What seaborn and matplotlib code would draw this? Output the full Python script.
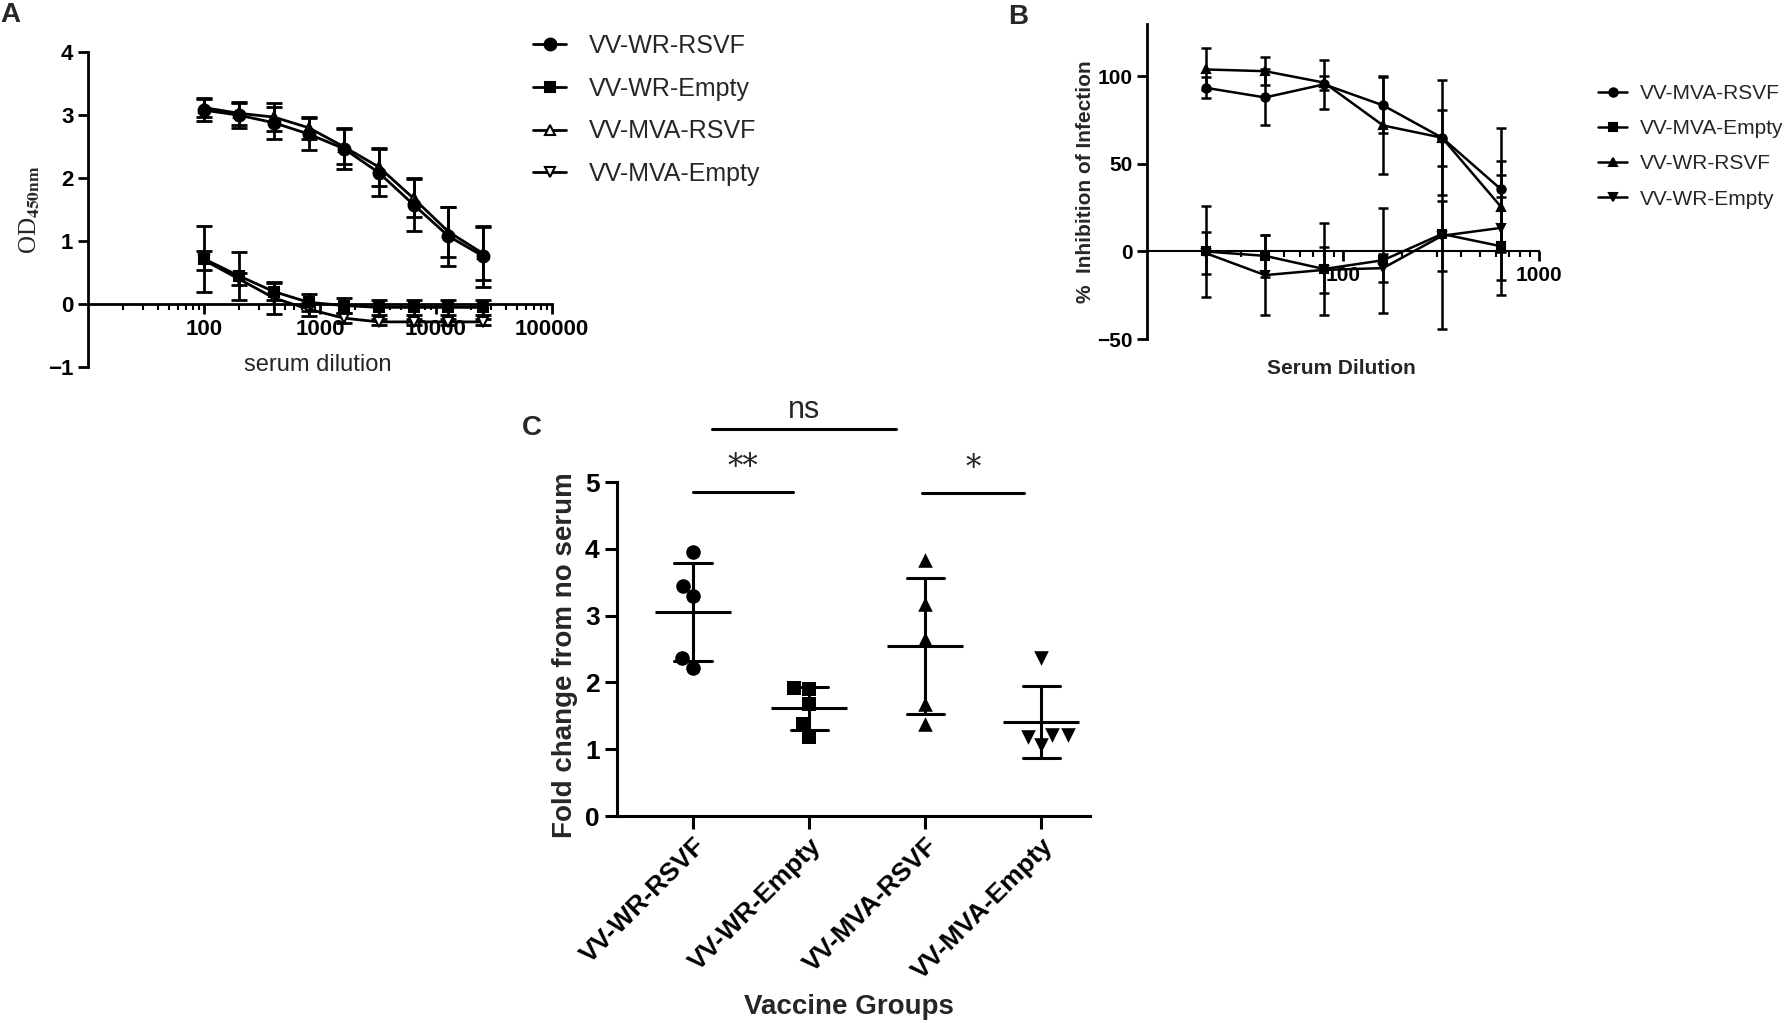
import numpy as np
import pandas as pd
import matplotlib
matplotlib.use('Agg')
import matplotlib.pyplot as plt
import seaborn as sns
from matplotlib.ticker import FixedLocator, FixedFormatter, LogLocator, NullFormatter

# ---- Panel A: ELISA OD450 vs serum dilution ----
dil_a = [100, 200, 400, 800, 1600, 3200, 6400, 12800, 25600]
wr_rsvf_a = [3.08, 3.00, 2.88, 2.70, 2.47, 2.09, 1.58, 1.08, 0.76]
wr_rsvf_a_sd = [0.18, 0.20, 0.25, 0.25, 0.32, 0.38, 0.42, 0.47, 0.48]
wr_empty_a = [0.72, 0.45, 0.20, 0.03, -0.02, -0.05, -0.05, -0.05, -0.05]
wr_empty_a_sd = [0.52, 0.38, 0.14, 0.14, 0.12, 0.12, 0.12, 0.12, 0.12]
mva_rsvf_a = [3.12, 3.03, 2.97, 2.80, 2.50, 2.18, 1.68, 1.15, 0.80]
mva_rsvf_a_sd = [0.15, 0.18, 0.22, 0.17, 0.28, 0.30, 0.30, 0.40, 0.42]
mva_empty_a = [0.70, 0.40, 0.10, -0.08, -0.22, -0.28, -0.28, -0.28, -0.28]
mva_empty_a_sd = [0.15, 0.10, 0.25, 0.10, 0.08, 0.05, 0.05, 0.05, 0.05]

# ---- Panel B: % inhibition vs serum dilution ----
dil_b = [20, 40, 80, 160, 320, 640]
mva_rsvf_b = [93.5, 88, 95.5, 83.5, 65, 35.5]
mva_rsvf_b_sd = [6, 16, 14, 16, 33, 35]
mva_empty_b = [0, -2.5, -10, -5, 10, 3]
mva_empty_b_sd = [26, 12, 26, 30, 54, 28]
wr_rsvf_b = [104, 103, 96.5, 72, 65, 25.5]
wr_rsvf_b_sd = [12, 8, 4, 28, 16, 26]
wr_empty_b = [-1, -13.5, -10.5, -9.5, 9, 13.5]
wr_empty_b_sd = [12, 23, 13, 8, 20, 30]

# ---- Panel C: fold change per vaccine group ----
groups = ['VV-WR-RSVF', 'VV-WR-Empty', 'VV-MVA-RSVF', 'VV-MVA-Empty']
wr_rsvf_c = [3.95, 3.45, 3.29, 2.37, 2.22]
wr_empty_c = [1.90, 1.92, 1.68, 1.38, 1.18]
mva_rsvf_c = [3.83, 3.17, 2.65, 1.68, 1.38]
mva_empty_c = [2.37, 1.21, 1.06, 1.18, 1.21]
c_markers = ['o', 's', '^', 'v']

sns.set_theme(style='ticks')
plt.rcParams['font.family'] = ['Liberation Sans', 'DejaVu Sans']
plt.rcParams['mathtext.fontset'] = 'stix'

fig = plt.figure(figsize=(17.9, 10.23), dpi=100)


def style_log_axis(ax, xlim, ylim, xticks, yticks, tick_size, bold):
    ax.set_xscale('log')
    ax.set_xlim(*xlim)
    ax.set_ylim(*ylim)
    for s in ['top', 'right']:
        ax.spines[s].set_visible(False)
    ax.spines['bottom'].set_position(('data', 0))
    for s in ['left', 'bottom']:
        ax.spines[s].set_linewidth(2)
        ax.spines[s].set_color('black')
    ax.xaxis.set_major_locator(FixedLocator(xticks))
    ax.xaxis.set_major_formatter(FixedFormatter([str(t) for t in xticks]))
    ax.xaxis.set_minor_locator(LogLocator(base=10, subs=np.arange(2, 10)))
    ax.xaxis.set_minor_formatter(NullFormatter())
    ax.set_yticks(yticks)
    w = 'bold' if bold else 'normal'
    ax.tick_params(axis='both', which='major', length=7, width=2, direction='out',
                   labelsize=tick_size, colors='black')
    ax.tick_params(axis='x', which='minor', length=4, width=1.5, direction='out', colors='black')
    for lab in ax.get_xticklabels() + ax.get_yticklabels():
        lab.set_fontweight(w)


def draw_series(ax, x, y, sd, label, marker, ms, filled, lw, cap, z):
    fc = 'black' if filled else 'white'
    ax.errorbar(x, y, yerr=sd, fmt='none', ecolor='black', elinewidth=lw,
                capsize=cap, capthick=lw, zorder=z)
    sns.lineplot(x=x, y=y, ax=ax, color='black', linewidth=lw, marker=marker,
                 markersize=ms, markerfacecolor=fc, markeredgecolor='black',
                 markeredgewidth=1.5, label=label, zorder=z + 0.5)


# ---------------- Panel A ----------------
axA = fig.add_axes([0.0492, 0.641, 0.2592, 0.308])
# MVA drawn underneath, WR on top (as in the original overlay)
draw_series(axA, dil_a, mva_rsvf_a, mva_rsvf_a_sd, 'VV-MVA-RSVF', '^', 7, False, 2, 6, 2)
draw_series(axA, dil_a, mva_empty_a, mva_empty_a_sd, 'VV-MVA-Empty', 'v', 7, False, 2, 6, 2)
draw_series(axA, dil_a, wr_rsvf_a, wr_rsvf_a_sd, 'VV-WR-RSVF', 'o', 8.5, True, 2, 6, 4)
draw_series(axA, dil_a, wr_empty_a, wr_empty_a_sd, 'VV-WR-Empty', 's', 7.5, True, 2, 6, 4)
style_log_axis(axA, (10, 100000), (-1, 4), [100, 1000, 10000, 100000], [-1, 0, 1, 2, 3, 4], 16, True)
axA.set_ylabel(r'OD$_{\mathbf{450nm}}$', fontsize=18, family='Liberation Serif')
axA.yaxis.set_label_coords(-0.125, 0.5)
axA.yaxis.label.set_va('center')
axA.set_xlabel('serum dilution', fontsize=17)
axA.xaxis.set_label_coords(0.494, 0.006)
axA.xaxis.label.set_va('center')
handles, labels = axA.get_legend_handles_labels()
order_a = ['VV-WR-RSVF', 'VV-WR-Empty', 'VV-MVA-RSVF', 'VV-MVA-Empty']
hmap = dict(zip(labels, handles))
axA.legend([hmap[k] for k in order_a], order_a,
           loc='upper left', bbox_to_anchor=(0.298, 0.967), bbox_transform=fig.transFigure,
           frameon=False, fontsize=18, handlelength=1.3, handletextpad=0.9,
           labelspacing=0.75, borderpad=0, borderaxespad=0)

# ---------------- Panel B ----------------
axB = fig.add_axes([0.6408, 0.6686, 0.219, 0.308])
draw_series(axB, dil_b, mva_rsvf_b, mva_rsvf_b_sd, 'VV-MVA-RSVF', 'o', 6, True, 1.8, 3.5, 2)
draw_series(axB, dil_b, mva_empty_b, mva_empty_b_sd, 'VV-MVA-Empty', 's', 5.5, True, 1.8, 3.5, 2)
draw_series(axB, dil_b, wr_rsvf_b, wr_rsvf_b_sd, 'VV-WR-RSVF', '^', 6, True, 1.8, 3.5, 2)
draw_series(axB, dil_b, wr_empty_b, wr_empty_b_sd, 'VV-WR-Empty', 'v', 6, True, 1.8, 3.5, 2)
style_log_axis(axB, (10, 1000), (-50, 130), [100, 1000], [-50, 0, 50, 100], 15, True)
axB.spines['bottom'].set_linewidth(1.5)
axB.set_ylabel('%  Inhibition of Infection', fontsize=15, fontweight='bold')
axB.yaxis.set_label_coords(-0.158, 0.498)
axB.yaxis.label.set_va('center')
axB.set_xlabel('Serum Dilution', fontsize=15, fontweight='bold')
axB.xaxis.set_label_coords(0.497, -0.092)
axB.xaxis.label.set_va('center')
axB.legend(loc='upper left', bbox_to_anchor=(0.8927, 0.918), bbox_transform=fig.transFigure,
           frameon=False, fontsize=15, handlelength=1.4, handletextpad=0.6,
           labelspacing=0.78, borderpad=0, borderaxespad=0)

# ---------------- Panel C ----------------
df_c = pd.DataFrame({
    'group': np.repeat(groups, 5),
    'fold': wr_rsvf_c + wr_empty_c + mva_rsvf_c + mva_empty_c,
})
axC = fig.add_axes([0.3447, 0.2023, 0.2642, 0.3265])
for g, m in zip(groups, c_markers):
    sns.swarmplot(data=df_c[df_c['group'] == g], x='group', y='fold', order=groups,
                  marker=m, color='black', size=10.5, ax=axC, zorder=2)
sns.pointplot(data=df_c, x='group', y='fold', order=groups, errorbar='sd',
              capsize=0.32, color='black', linestyle='none', marker='_',
              markersize=55, markeredgewidth=2.2, err_kws={'linewidth': 2.2}, ax=axC)
axC.set_xlim(-0.655, 3.42)
axC.set_ylim(0, 5)
axC.set_yticks([0, 1, 2, 3, 4, 5])
sns.despine(ax=axC)
for s in ['left', 'bottom']:
    axC.spines[s].set_linewidth(2.2)
    axC.spines[s].set_color('black')
axC.tick_params(axis='both', length=9, width=2.2, colors='black', labelsize=19)
axC.set_xticks(range(len(groups)))
axC.set_xticklabels(groups, rotation=45, ha='right', rotation_mode='anchor', fontsize=19,
                    fontweight='bold')
for lab in axC.get_yticklabels():
    lab.set_fontweight('bold')
axC.set_ylabel('Fold change from no serum', fontsize=20, fontweight='bold')
axC.yaxis.set_label_coords(-0.11, 0.482)
axC.yaxis.label.set_va('center')
axC.set_xlabel('Vaccine Groups', fontsize=20, fontweight='bold')
axC.xaxis.set_label_coords(0.49, -0.572)
axC.xaxis.label.set_va('center')

# significance annotations
for x0, x1, yb, txt, ty in [(0.0, 0.86, 4.85, '**', 5.22),
                            (1.97, 2.85, 4.84, '*', 5.2),
                            (0.16, 1.75, 5.79, 'ns', 6.08)]:
    axC.plot([x0, x1], [yb, yb], color='black', linewidth=2.2, clip_on=False)
    axC.text((x0 + x1) / 2, ty, txt, ha='center', va='center', fontsize=22,
             family=['DejaVu Serif'] if '*' in txt else None, clip_on=False)

# panel letters
fig.text(0.0056, 0.985, 'A', fontsize=20, fontweight='bold', ha='center', va='center')
fig.text(0.5687, 0.983, 'B', fontsize=20, fontweight='bold', ha='center', va='center')
fig.text(0.2972, 0.5816, 'C', fontsize=20, fontweight='bold', ha='center', va='center')

fig.savefig('out.png', dpi=100)
plt.close(fig)
